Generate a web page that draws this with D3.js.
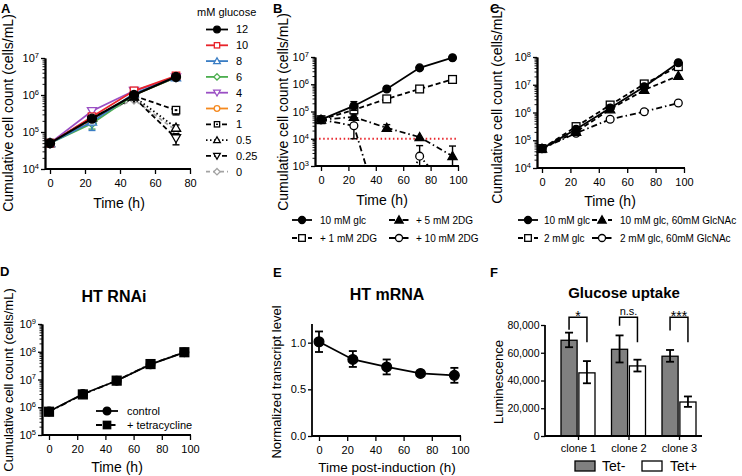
<!DOCTYPE html>
<html><head><meta charset="utf-8">
<script src="https://cdn.jsdelivr.net/npm/d3@7"></script>
<style>body{margin:0;background:#fff}svg text{font-family:"Liberation Sans",Arial,sans-serif;fill:#000}</style>
</head><body><svg id="c" width="742" height="476"></svg>
<script>
// ---------------- DATA ----------------
// Panel A
const timeA = [0, 24, 48, 72];
const glucoseLabels = ["12", "10", "8", "6", "4", "2", "1", "0.5", "0.25", "0"];
const countA12 = [5e4, 2.3e5, 1.0e6, 3.1e6];
const countA10 = [5e4, 2.6e5, 1.3e6, 3.3e6];
const countA8 = [5e4, 1.9e5, 1.1e6, 3.0e6];
const countA6 = [5e4, 1.7e5, 1.0e6, 3.0e6];
const countA4 = [5e4, 3.7e5, 1.3e6, 3.0e6];
const countA2 = [5e4, 2.2e5, 1.0e6, 3.0e6];
const countA1 = [5e4, 2.3e5, 9.5e5, 3.9e5];
const countA05 = [5e4, 2.4e5, 9.0e5, 1.3e5];
const countA025 = [5e4, 2.2e5, 8.5e5, 6.8e4];
const countA0 = [5e4, 2.5e5, 7.5e5, 1.1e5];
const errA8 = [null, [1.1e5, 2.5e5], null, null];
const errA6 = [null, [1.2e5, 2.3e5], null, null];
const errA1 = [null, null, null, [2.9e5, 4.5e5]];
const errA05 = [null, null, null, [1.05e5, 1.55e5]];
const errA025 = [null, null, null, [4.5e4, 9.0e4]];

// Panel B
const timeB = [0, 24, 48, 72, 96];
const seriesNamesB = ["10 mM glc", "+ 1 mM 2DG", "+ 5 mM 2DG", "+ 10 mM 2DG"];
const countB10glc = [5e4, 1.6e5, 6.7e5, 4.0e6, 9.4e6];
const countB1dg = [5e4, 1.15e5, 2.9e5, 6.7e5, 1.5e6];
const countB5dg = [5e4, 6.3e4, 2.5e4, 1.15e4, 2.3e3];
const countB10dg = [5e4, 3.0e4, 3, 2.3e3, 100];
const errB10glc = [null, [1.1e5, 2.3e5], null, null, null];
const errB5dg = [null, [5.0e4, 7.5e4], [1.9e4, 3.3e4], null, [1.0e3, 5.4e3]];
const errB10dg = [null, [1.0e4, 5.0e4], null, [1.0e3, 5.6e3], null];
const detectionLimitB = 1e4;

// Panel C
const timeC = [0, 24, 48, 72, 96];
const seriesNamesC = ["10 mM glc", "10 mM glc, 60mM GlcNAc", "2 mM glc", "2 mM glc, 60mM GlcNAc"];
const countC10glc = [5e4, 2.5e5, 1.45e6, 8.5e6, 6.2e7];
const countC10gln = [5e4, 2.0e5, 1.3e6, 6.5e6, 2.1e7];
const countC2glc = [5e4, 3.1e5, 1.86e6, 1.07e7, 4.5e7];
const countC2gln = [5e4, 1.8e5, 5.7e5, 1.07e6, 2.2e6];

// Panel D
const timeD = [0, 24, 48, 72, 96];
const seriesNamesD = ["control", "+ tetracycline"];
const countDcontrol = [7.0e5, 3.0e6, 9.0e6, 3.5e7, 9.5e7];
const countDtet = [6.9e5, 2.9e6, 9.1e6, 3.6e7, 9.6e7];

// Panel E
const timeE = [0, 24, 48, 72, 96];
const mrnaE = [1.01, 0.82, 0.74, 0.67, 0.65];
const mrnaLoE = [0.90, 0.74, 0.66, 0.66, 0.57];
const mrnaHiE = [1.12, 0.91, 0.82, 0.68, 0.73];

// Panel F
const clones = ["clone 1", "clone 2", "clone 3"];
const groupsF = ["Tet-", "Tet+"];
const lumTetMinus = [69000, 62500, 57500];
const lumTetMinusLo = [64000, 53000, 53500];
const lumTetMinusHi = [74500, 72500, 62000];
const lumTetPlus = [45500, 50500, 24500];
const lumTetPlusLo = [38000, 46500, 21000];
const lumTetPlusHi = [54000, 55000, 28500];
const sigLabels = ["*", "n.s.", "***"];
const bracketTop = [85500, 85500, 85500];
const bracketLeftEnd = [76500, 79500, 76000];
const bracketRightEnd = [67500, 67500, 67500];

// ---------------- DRAW ----------------
const svg = d3.select("#c");
const AX = 1.8;

function styleAxis(sel, fs) {
  sel.select(".domain").attr("stroke", "#000").attr("stroke-width", AX);
  sel.selectAll(".tick line").attr("stroke", "#000").attr("stroke-width", 1.3);
  sel.selectAll(".tick text").attr("font-family", '"Liberation Sans",Arial,sans-serif')
    .attr("font-size", (fs || 11) + "px").attr("fill", "#000");
}

function logYAxis(axisX, y, eMin, eMax) {
  const majors = d3.range(eMin, eMax + 1).map(e => Math.pow(10, e));
  const minors = [];
  for (let e = eMin; e < eMax; e++) for (let k = 2; k < 10; k++) minors.push(k * Math.pow(10, e));
  svg.append("g").attr("transform", `translate(${axisX},0)`)
    .call(d3.axisLeft(y).tickValues(minors).tickSize(2.5).tickSizeOuter(0).tickFormat(""))
    .call(s => styleAxis(s)).call(s => s.selectAll(".tick line").attr("stroke-width", 0.9));
  const ga = svg.append("g").attr("transform", `translate(${axisX},0)`)
    .call(d3.axisLeft(y).tickValues(majors).tickSize(4).tickSizeOuter(0).tickPadding(2))
    .call(s => styleAxis(s));
  ga.selectAll(".tick text").each(function (d) {
    const t = d3.select(this);
    const e = Math.round(Math.log10(d));
    t.text("10");
    t.append("tspan").attr("dy", "-0.55em").attr("font-size", "7.5px").text(e);
  });
}

function xAxis(axisX, x, yPos, ticks) {
  svg.append("line").attr("x1", axisX).attr("x2", x(ticks[ticks.length - 1]) + 1)
    .attr("y1", yPos).attr("y2", yPos).attr("stroke", "#000").attr("stroke-width", AX);
  const g = svg.append("g").attr("transform", `translate(0,${yPos})`)
    .call(d3.axisBottom(x).tickValues(ticks).tickSize(5).tickSizeOuter(0).tickPadding(5))
    .call(s => styleAxis(s));
  g.select(".domain").remove();
}

function yAxisLine(axisX, y0, y1) {
  svg.append("line").attr("x1", axisX).attr("x2", axisX).attr("y1", y0).attr("y2", y1)
    .attr("stroke", "#000").attr("stroke-width", AX);
}

function text(x, y, str, opts) {
  opts = opts || {};
  const t = svg.append("text").attr("x", x).attr("y", y).text(str)
    .attr("font-size", (opts.size || 11) + "px")
    .attr("text-anchor", opts.anchor || "start");
  if (opts.bold) t.attr("font-weight", "bold");
  if (opts.rotate) t.attr("transform", `rotate(-90,${x},${y})`);
  return t;
}

function marker(g, type, x, y, color, filled, s) {
  s = s || 1;
  const fill = filled ? color : "#fff";
  const sw = 1.3;
  if (type === "circle") {
    g.append("circle").attr("cx", x).attr("cy", y).attr("r", 3.9 * s)
      .attr("fill", fill).attr("stroke", color).attr("stroke-width", sw);
  } else if (type === "square" || type === "sqdot") {
    const h = 3.7 * s;
    g.append("rect").attr("x", x - h).attr("y", y - h).attr("width", 2 * h).attr("height", 2 * h)
      .attr("fill", fill).attr("stroke", color).attr("stroke-width", sw);
    if (type === "sqdot") g.append("rect").attr("x", x - 1.3 * s).attr("y", y - 1 * s).attr("width", 2.6 * s).attr("height", 2 * s).attr("fill", color);
  } else if (type === "triangle" || type === "tridown") {
    const d = type === "triangle" ? 1 : -1;
    const a = 4.6 * s;
    g.append("path").attr("d", `M${x},${y - d * a}L${x + a},${y + d * a * 0.75}L${x - a},${y + d * a * 0.75}Z`)
      .attr("fill", fill).attr("stroke", color).attr("stroke-width", sw).attr("stroke-linejoin", "miter");
  } else if (type === "diamond") {
    const a = 4.4 * s;
    g.append("path").attr("d", `M${x},${y - a}L${x + a},${y}L${x},${y + a}L${x - a},${y}Z`)
      .attr("fill", fill).attr("stroke", color).attr("stroke-width", sw);
  }
}

function errBar(g, x, yLo, yHi, color, cap, sw) {
  g.append("line").attr("x1", x).attr("x2", x).attr("y1", yLo).attr("y2", yHi)
    .attr("stroke", color).attr("stroke-width", sw || 1.4);
  [yLo, yHi].forEach(v => g.append("line").attr("x1", x - cap).attr("x2", x + cap).attr("y1", v).attr("y2", v)
    .attr("stroke", color).attr("stroke-width", sw || 1.4));
}

function drawSeries(g, x, y, times, s) {
  const line = d3.line().x((d, i) => x(times[i])).y(d => y(d));
  g.append("path").attr("d", line(s.values)).attr("fill", "none")
    .attr("stroke", s.color).attr("stroke-width", s.width || 1.8)
    .attr("stroke-dasharray", s.dash || null);
  if (s.err) s.err.forEach((e, i) => { if (e) errBar(g, x(times[i]), y(e[0]), y(e[1]), s.color, 3.5); });
  s.values.forEach((v, i) => marker(g, s.marker, x(times[i]), y(v), s.color, s.filled, s.size));
}

function legendItem(g, x0, x1, yc, s, label, fs, tx, ms) {
  g.append("line").attr("x1", x0).attr("x2", x1).attr("y1", yc).attr("y2", yc)
    .attr("stroke", s.color).attr("stroke-width", s.width || 1.8).attr("stroke-dasharray", s.dash || null);
  marker(g, s.marker, (x0 + x1) / 2, yc, s.color, s.filled, ms || 0.9);
  g.append("text").attr("x", tx).attr("y", yc + fs * 0.36).attr("font-size", fs + "px").text(label);
}

const DASH = "5,3", DOT = "1.5,2.5", DASHDOT = "6,3,1.5,3";

// ---------- Panel A ----------
(function () {
  const axisX = 45;
  const x = d3.scaleLinear().domain([0, 80]).range([50, 190]);
  const y = d3.scaleLog().domain([1e4, 1e7]).range([169, 58]);
  const series = [
    { values: countA12, color: "#000", marker: "circle", filled: true, width: 2.2, size: 1.15 },
    { values: countA10, color: "#e8242a", marker: "square", filled: false },
    { values: countA8, color: "#3a7dc4", marker: "triangle", filled: false, err: errA8 },
    { values: countA6, color: "#4cae4f", marker: "diamond", filled: false, err: errA6 },
    { values: countA4, color: "#9a4fc4", marker: "tridown", filled: false },
    { values: countA2, color: "#f5891f", marker: "circle", filled: false },
    { values: countA1, color: "#000", marker: "sqdot", filled: false, dash: DASH, err: errA1 },
    { values: countA05, color: "#000", marker: "triangle", filled: false, dash: DOT, err: errA05 },
    { values: countA025, color: "#000", marker: "tridown", filled: false, dash: DASH, err: errA025 },
    { values: countA0, color: "#a3a3a3", marker: "diamond", filled: false, dash: "4,3" }
  ];
  const g = svg.append("g");
  series.slice().reverse().forEach(s => drawSeries(g, x, y, timeA, s));
  logYAxis(axisX, y, 4, 7);
  xAxis(axisX, x, 169, [0, 20, 40, 60, 80]);
  text(119, 208, "Time (h)", { size: 14, anchor: "middle" });
  text(13, 113, "Cumulative cell count (cells/mL)", { size: 14, anchor: "middle", rotate: true });
  text(1, 13, "A", { size: 13, bold: true });
  const lg = svg.append("g");
  lg.append("text").attr("x", 197).attr("y", 16).attr("font-size", "11px").text("mM glucose");
  series.forEach((s, i) => legendItem(lg, 206, 228, 29.5 + i * 15.8, Object.assign({}, s, { width: 1.8 }), glucoseLabels[i], 11, 236, s.marker === "circle" && s.filled ? 0.85 : 0.72));
})();

// ---------- Panel B ----------
(function () {
  const axisX = 315;
  const x = d3.scaleLinear().domain([0, 100]).range([321, 458]);
  const y = d3.scaleLog().domain([1e3, 1e7]).range([166, 57]).clamp(false);
  svg.append("clipPath").attr("id", "clipB").append("rect").attr("x", axisX).attr("y", 40).attr("width", 160).attr("height", 126);
  const series = [
    { values: countB10glc, color: "#000", marker: "circle", filled: true, err: errB10glc },
    { values: countB1dg, color: "#000", marker: "square", filled: false, dash: DASH, size: 1.05 },
    { values: countB5dg, color: "#000", marker: "triangle", filled: true, dash: DASHDOT },
    { values: countB10dg, color: "#000", marker: "circle", filled: false, dash: DASHDOT, err: errB10dg }
  ];
  series[2].err = errB5dg;
  const g = svg.append("g").attr("clip-path", "url(#clipB)");
  g.append("line").attr("x1", axisX).attr("x2", 458).attr("y1", y(detectionLimitB)).attr("y2", y(detectionLimitB))
    .attr("stroke", "#e8242a").attr("stroke-width", 1.8).attr("stroke-dasharray", "1.5,2.6");
  series.slice().reverse().forEach(s => drawSeries(g, x, y, timeB, s));
  logYAxis(axisX, y, 3, 7);
  xAxis(axisX, x, 166, [0, 20, 40, 60, 80, 100]);
  text(382, 205, "Time (h)", { size: 14, anchor: "middle" });
  text(288, 112, "Cumulative cell count (cells/mL)", { size: 14, anchor: "middle", rotate: true });
  text(273, 13, "B", { size: 13, bold: true });
  const lg = svg.append("g");
  legendItem(lg, 292, 312, 220, series[0], seriesNamesB[0], 10, 320);
  legendItem(lg, 389, 409, 220, series[2], seriesNamesB[2], 10, 416);
  legendItem(lg, 292, 312, 238, series[1], seriesNamesB[1], 10, 320);
  legendItem(lg, 389, 409, 238, series[3], seriesNamesB[3], 10, 416);
})();

// ---------- Panel C ----------
(function () {
  const axisX = 537;
  const x = d3.scaleLinear().domain([0, 100]).range([542, 684]);
  const y = d3.scaleLog().domain([1e4, 1e8]).range([168, 57]);
  const s10 = { values: countC10glc, color: "#000", marker: "circle", filled: true };
  const s10g = { values: countC10gln, color: "#000", marker: "triangle", filled: true, dash: DASH };
  const s2 = { values: countC2glc, color: "#000", marker: "square", filled: false, dash: DASH, size: 1.05 };
  const s2g = { values: countC2gln, color: "#000", marker: "circle", filled: false, dash: DASHDOT };
  const g = svg.append("g");
  [s2g, s2, s10g, s10].forEach(s => drawSeries(g, x, y, timeC, s));
  logYAxis(axisX, y, 4, 8);
  xAxis(axisX, x, 168, [0, 20, 40, 60, 80, 100]);
  text(610, 206, "Time (h)", { size: 14, anchor: "middle" });
  text(502, 105, "Cumulative cell count (cells/mL)", { size: 14, anchor: "middle", rotate: true });
  text(490, 13, "C", { size: 13, bold: true });
  const lg = svg.append("g");
  legendItem(lg, 518, 538, 220, s10, seriesNamesC[0], 10, 544);
  legendItem(lg, 592, 612, 220, s10g, seriesNamesC[1], 10, 620);
  legendItem(lg, 518, 538, 238, s2, seriesNamesC[2], 10, 544);
  legendItem(lg, 592, 612, 238, s2g, seriesNamesC[3], 10, 620);
})();

// ---------- Panel D ----------
(function () {
  const axisX = 42;
  const x = d3.scaleLinear().domain([0, 100]).range([49, 190]);
  const y = d3.scaleLog().domain([1e5, 1e9]).range([435, 324]);
  const sc = { values: countDcontrol, color: "#000", marker: "circle", filled: true, size: 1.1 };
  const st = { values: countDtet, color: "#000", marker: "square", filled: true, dash: DASHDOT, size: 1.2 };
  const g = svg.append("g");
  [sc, st].forEach(s => drawSeries(g, x, y, timeD, s));
  logYAxis(axisX, y, 5, 9);
  xAxis(axisX, x, 435, [0, 20, 40, 60, 80, 100]);
  text(117, 472, "Time (h)", { size: 14, anchor: "middle" });
  text(13, 380, "Cumulative cell count (cells/mL)", { size: 13, anchor: "middle", rotate: true });
  text(0, 276, "D", { size: 13, bold: true });
  text(114, 302, "HT RNAi", { size: 16, bold: true, anchor: "middle" });
  const lg = svg.append("g");
  legendItem(lg, 96, 118, 411, sc, seriesNamesD[0], 11, 127, 1.0);
  legendItem(lg, 96, 118, 425, st, seriesNamesD[1], 11, 127, 1.0);
})();

// ---------- Panel E ----------
(function () {
  const axisX = 312;
  const x = d3.scaleLinear().domain([0, 100]).range([319, 460]);
  const y = d3.scaleLinear().domain([0, 1.2]).range([436, 324]);
  yAxisLine(axisX, 324, 436);
  const ga = svg.append("g").attr("transform", `translate(${axisX},0)`)
    .call(d3.axisLeft(y).tickValues([0, 0.5, 1.0]).tickFormat(d3.format(".1f")).tickSize(4).tickSizeOuter(0).tickPadding(2))
    .call(s => styleAxis(s));
  ga.select(".domain").remove();
  xAxis(axisX, x, 436, [0, 20, 40, 60, 80, 100]);
  const g = svg.append("g");
  const line = d3.line().x((d, i) => x(timeE[i])).y(d => y(d));
  g.append("path").attr("d", line(mrnaE)).attr("fill", "none").attr("stroke", "#000").attr("stroke-width", 1.8);
  mrnaE.forEach((v, i) => {
    errBar(g, x(timeE[i]), y(mrnaLoE[i]), y(mrnaHiE[i]), "#000", 4, 1.8);
    marker(g, "circle", x(timeE[i]), y(v), "#000", true, 1.25);
  });
  text(387, 472, "Time post-induction (h)", { size: 13.5, anchor: "middle" });
  text(281, 382, "Normalized transcript level", { size: 13, anchor: "middle", rotate: true });
  text(273, 277, "E", { size: 13, bold: true });
  text(387, 300, "HT mRNA", { size: 16, bold: true, anchor: "middle" });
})();

// ---------- Panel F ----------
(function () {
  const axisX = 545;
  const y = d3.scaleLinear().domain([0, 80000]).range([436, 325]);
  const x = d3.scalePoint().domain(clones).range([578, 679]);
  const sub = d3.scaleBand().domain(groupsF).range([-17, 17]).paddingInner(0.1);
  const g = svg.append("g");
  clones.forEach((c, i) => {
    const cx = x(c);
    const vals = [[lumTetMinus[i], lumTetMinusLo[i], lumTetMinusHi[i], "#808080"], [lumTetPlus[i], lumTetPlusLo[i], lumTetPlusHi[i], "#fff"]];
    vals.forEach((v, j) => {
      const bx = cx + sub(groupsF[j]);
      g.append("rect").attr("x", bx).attr("y", y(v[0])).attr("width", sub.bandwidth()).attr("height", y(0) - y(v[0]))
        .attr("fill", v[3]).attr("stroke", "#000").attr("stroke-width", 1.3);
      errBar(g, bx + sub.bandwidth() / 2, y(v[1]), y(v[2]), "#000", 4, 1.8);
    });
    const xl = cx + sub(groupsF[0]) + sub.bandwidth() / 2;
    const xr = cx + sub(groupsF[1]) + sub.bandwidth() / 2;
    g.append("path").attr("d", `M${xl},${y(bracketLeftEnd[i])}V${y(bracketTop[i])}H${xr}V${y(bracketRightEnd[i])}`)
      .attr("fill", "none").attr("stroke", "#000").attr("stroke-width", 1.5);
    const isStar = sigLabels[i].indexOf("*") >= 0;
    g.append("text").attr("x", (xl + xr) / 2).attr("y", y(bracketTop[i]) + (isStar ? 4 : -2))
      .attr("text-anchor", "middle").attr("font-size", (isStar ? 14 : 11) + "px").text(sigLabels[i]);
  });
  yAxisLine(axisX, 325, 436);
  const ga = svg.append("g").attr("transform", `translate(${axisX},0)`)
    .call(d3.axisLeft(y).tickValues([0, 20000, 40000, 60000, 80000]).tickFormat(d3.format(",")).tickSize(4).tickSizeOuter(0).tickPadding(1.5))
    .call(s => styleAxis(s, 10.5));
  ga.select(".domain").remove();
  svg.append("line").attr("x1", axisX).attr("x2", 702).attr("y1", 436).attr("y2", 436).attr("stroke", "#000").attr("stroke-width", AX);
  const gx = svg.append("g").attr("transform", "translate(0,436)")
    .call(d3.axisBottom(x).tickSize(4).tickSizeOuter(0).tickPadding(4)).call(s => styleAxis(s));
  gx.select(".domain").remove();
  text(503, 382, "Luminescence", { size: 13, anchor: "middle", rotate: true });
  text(490, 277, "F", { size: 13, bold: true });
  text(624, 298, "Glucose uptake", { size: 15, bold: true, anchor: "middle" });
  const lg = svg.append("g");
  [["#808080", 575, 602], ["#fff", 642, 670]].forEach((d, j) => {
    lg.append("rect").attr("x", d[1]).attr("y", 461).attr("width", 20).attr("height", 10)
      .attr("fill", d[0]).attr("stroke", "#000").attr("stroke-width", 1.3);
    lg.append("text").attr("x", d[2]).attr("y", 471).attr("font-size", "14px").text(groupsF[j]);
  });
})();
</script></body></html>
